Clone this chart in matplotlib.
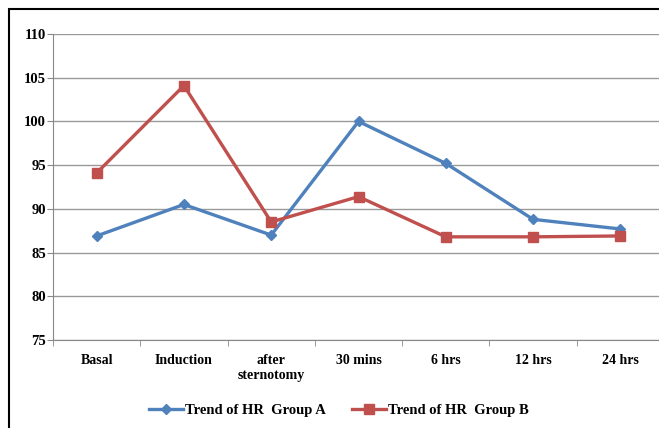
import matplotlib.pyplot as plt
from matplotlib.patches import Rectangle
from matplotlib.ticker import FixedLocator

categories = ['Basal', 'Induction', 'after\nsternotomy', '30 mins', '6 hrs', '12 hrs', '24 hrs']
hr_group_a = [86.9, 90.5, 87.0, 100.0, 95.2, 88.8, 87.7]
hr_group_b = [94.1, 104.1, 88.5, 91.4, 86.8, 86.8, 86.9]
y_ticks = [75, 80, 85, 90, 95, 100, 105, 110]

plt.rcParams['font.family'] = 'Liberation Serif'
plt.rcParams['font.weight'] = 'bold'

fig = plt.figure(figsize=(6.59, 4.28), dpi=100)
# outer chart frame
fig.patches.append(Rectangle((9 / 659, -0.1), 1.2, 1 - 9 / 428 + 0.1,
                             transform=fig.transFigure, fill=False,
                             edgecolor='black', linewidth=1.5))

ax = fig.add_axes([53 / 659, 1 - 340 / 428, 611 / 659, 306 / 428])
x = range(len(categories))
ax.plot(x, hr_group_a, color='#4F81BD', linewidth=2.4, marker='D', markersize=5.5,
        label='Trend of HR  Group A', zorder=3)
ax.plot(x, hr_group_b, color='#C0504D', linewidth=2.4, marker='s', markersize=7.5,
        label='Trend of HR  Group B', zorder=3)

ax.set_xlim(-0.5, len(categories) - 0.5)
ax.set_ylim(75, 110)
ax.set_yticks(y_ticks)
ax.set_xticks(list(x))
ax.set_xticklabels(categories, fontsize=10, fontweight='bold', linespacing=1.25)
ax.xaxis.set_minor_locator(FixedLocator([i + 0.5 for i in range(-1, len(categories))]))
ax.tick_params(axis='x', which='major', length=0, pad=10)
ax.tick_params(axis='x', which='minor', length=4, color='#888888', direction='out')
ax.tick_params(axis='y', length=4, color='#888888', labelsize=10.5, pad=1)
for lbl in ax.get_yticklabels():
    lbl.set_fontweight('bold')

ax.grid(axis='y', color='#999999', linewidth=1)
ax.set_axisbelow(True)
for side in ['top', 'right']:
    ax.spines[side].set_visible(False)
for side in ['left', 'bottom']:
    ax.spines[side].set_color('#888888')

fig.legend(loc='center', bbox_to_anchor=(339 / 659, 1 - 410 / 428), ncol=2,
           frameon=False, handlelength=2.3, columnspacing=1.8,
           handletextpad=0.15, prop={'weight': 'bold', 'size': 10.5})

fig.savefig('out.png', dpi=100)
